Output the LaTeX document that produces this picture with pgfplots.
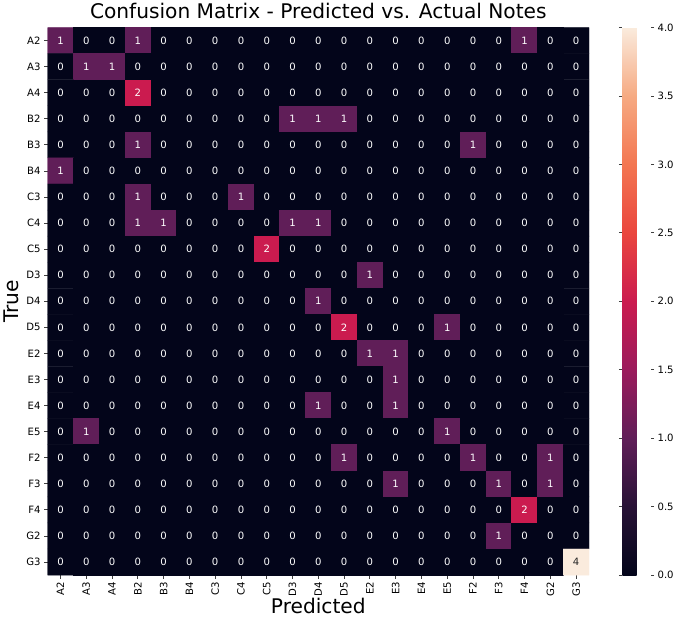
\documentclass[border=0pt]{standalone}
\usepackage{pgfplots}
\usepackage{pgfplotstable}
\pgfplotsset{compat=1.18}
\usepackage{fontspec}
\setmainfont{DejaVu Sans}
% confusion matrix: x = Predicted index, y = True index (A2..G3), c = count
\pgfplotstableread{
x y c
0 0 1
1 0 0
2 0 0
3 0 1
4 0 0
5 0 0
6 0 0
7 0 0
8 0 0
9 0 0
10 0 0
11 0 0
12 0 0
13 0 0
14 0 0
15 0 0
16 0 0
17 0 0
18 0 1
19 0 0
20 0 0
0 1 0
1 1 1
2 1 1
3 1 0
4 1 0
5 1 0
6 1 0
7 1 0
8 1 0
9 1 0
10 1 0
11 1 0
12 1 0
13 1 0
14 1 0
15 1 0
16 1 0
17 1 0
18 1 0
19 1 0
20 1 0
0 2 0
1 2 0
2 2 0
3 2 2
4 2 0
5 2 0
6 2 0
7 2 0
8 2 0
9 2 0
10 2 0
11 2 0
12 2 0
13 2 0
14 2 0
15 2 0
16 2 0
17 2 0
18 2 0
19 2 0
20 2 0
0 3 0
1 3 0
2 3 0
3 3 0
4 3 0
5 3 0
6 3 0
7 3 0
8 3 0
9 3 1
10 3 1
11 3 1
12 3 0
13 3 0
14 3 0
15 3 0
16 3 0
17 3 0
18 3 0
19 3 0
20 3 0
0 4 0
1 4 0
2 4 0
3 4 1
4 4 0
5 4 0
6 4 0
7 4 0
8 4 0
9 4 0
10 4 0
11 4 0
12 4 0
13 4 0
14 4 0
15 4 0
16 4 1
17 4 0
18 4 0
19 4 0
20 4 0
0 5 1
1 5 0
2 5 0
3 5 0
4 5 0
5 5 0
6 5 0
7 5 0
8 5 0
9 5 0
10 5 0
11 5 0
12 5 0
13 5 0
14 5 0
15 5 0
16 5 0
17 5 0
18 5 0
19 5 0
20 5 0
0 6 0
1 6 0
2 6 0
3 6 1
4 6 0
5 6 0
6 6 0
7 6 1
8 6 0
9 6 0
10 6 0
11 6 0
12 6 0
13 6 0
14 6 0
15 6 0
16 6 0
17 6 0
18 6 0
19 6 0
20 6 0
0 7 0
1 7 0
2 7 0
3 7 1
4 7 1
5 7 0
6 7 0
7 7 0
8 7 0
9 7 1
10 7 1
11 7 0
12 7 0
13 7 0
14 7 0
15 7 0
16 7 0
17 7 0
18 7 0
19 7 0
20 7 0
0 8 0
1 8 0
2 8 0
3 8 0
4 8 0
5 8 0
6 8 0
7 8 0
8 8 2
9 8 0
10 8 0
11 8 0
12 8 0
13 8 0
14 8 0
15 8 0
16 8 0
17 8 0
18 8 0
19 8 0
20 8 0
0 9 0
1 9 0
2 9 0
3 9 0
4 9 0
5 9 0
6 9 0
7 9 0
8 9 0
9 9 0
10 9 0
11 9 0
12 9 1
13 9 0
14 9 0
15 9 0
16 9 0
17 9 0
18 9 0
19 9 0
20 9 0
0 10 0
1 10 0
2 10 0
3 10 0
4 10 0
5 10 0
6 10 0
7 10 0
8 10 0
9 10 0
10 10 1
11 10 0
12 10 0
13 10 0
14 10 0
15 10 0
16 10 0
17 10 0
18 10 0
19 10 0
20 10 0
0 11 0
1 11 0
2 11 0
3 11 0
4 11 0
5 11 0
6 11 0
7 11 0
8 11 0
9 11 0
10 11 0
11 11 2
12 11 0
13 11 0
14 11 0
15 11 1
16 11 0
17 11 0
18 11 0
19 11 0
20 11 0
0 12 0
1 12 0
2 12 0
3 12 0
4 12 0
5 12 0
6 12 0
7 12 0
8 12 0
9 12 0
10 12 0
11 12 0
12 12 1
13 12 1
14 12 0
15 12 0
16 12 0
17 12 0
18 12 0
19 12 0
20 12 0
0 13 0
1 13 0
2 13 0
3 13 0
4 13 0
5 13 0
6 13 0
7 13 0
8 13 0
9 13 0
10 13 0
11 13 0
12 13 0
13 13 1
14 13 0
15 13 0
16 13 0
17 13 0
18 13 0
19 13 0
20 13 0
0 14 0
1 14 0
2 14 0
3 14 0
4 14 0
5 14 0
6 14 0
7 14 0
8 14 0
9 14 0
10 14 1
11 14 0
12 14 0
13 14 1
14 14 0
15 14 0
16 14 0
17 14 0
18 14 0
19 14 0
20 14 0
0 15 0
1 15 1
2 15 0
3 15 0
4 15 0
5 15 0
6 15 0
7 15 0
8 15 0
9 15 0
10 15 0
11 15 0
12 15 0
13 15 0
14 15 0
15 15 1
16 15 0
17 15 0
18 15 0
19 15 0
20 15 0
0 16 0
1 16 0
2 16 0
3 16 0
4 16 0
5 16 0
6 16 0
7 16 0
8 16 0
9 16 0
10 16 0
11 16 1
12 16 0
13 16 0
14 16 0
15 16 0
16 16 1
17 16 0
18 16 0
19 16 1
20 16 0
0 17 0
1 17 0
2 17 0
3 17 0
4 17 0
5 17 0
6 17 0
7 17 0
8 17 0
9 17 0
10 17 0
11 17 0
12 17 0
13 17 1
14 17 0
15 17 0
16 17 0
17 17 1
18 17 0
19 17 1
20 17 0
0 18 0
1 18 0
2 18 0
3 18 0
4 18 0
5 18 0
6 18 0
7 18 0
8 18 0
9 18 0
10 18 0
11 18 0
12 18 0
13 18 0
14 18 0
15 18 0
16 18 0
17 18 0
18 18 2
19 18 0
20 18 0
0 19 0
1 19 0
2 19 0
3 19 0
4 19 0
5 19 0
6 19 0
7 19 0
8 19 0
9 19 0
10 19 0
11 19 0
12 19 0
13 19 0
14 19 0
15 19 0
16 19 0
17 19 1
18 19 0
19 19 0
20 19 0
0 20 0
1 20 0
2 20 0
3 20 0
4 20 0
5 20 0
6 20 0
7 20 0
8 20 0
9 20 0
10 20 0
11 20 0
12 20 0
13 20 0
14 20 0
15 20 0
16 20 0
17 20 0
18 20 0
19 20 0
20 20 4
}\cmdata
\definecolor{numdark}{RGB}{38,38,38}
\begin{document}
\begin{tikzpicture}
\begin{axis}[
  scale only axis,
  width=537pt, height=543pt,
  xmin=-0.5, xmax=20.5, ymin=-0.5, ymax=20.5,
  y dir=reverse,
  axis line style={draw=none},
  /pgf/number format/assume math mode=true,
  xtick={0,...,20}, ytick={0,...,20},
  xticklabels={A2,A3,A4,B2,B3,B4,C3,C4,C5,D3,D4,D5,E2,E3,E4,E5,F2,F3,F4,G2,G3},
  yticklabels={A2,A3,A4,B2,B3,B4,C3,C4,C5,D3,D4,D5,E2,E3,E4,E5,F2,F3,F4,G2,G3},
  tick pos=left,
  tick align=outside,
  major tick length=3.5pt,
  tick style={black!75, line width=0.8pt},
  x tick label style={rotate=90, anchor=east, font=\fontsize{10}{12}\selectfont},
  y tick label style={font=\fontsize{10}{12}\selectfont},
  title={Confusion Matrix - Predicted vs. Actual Notes},
  title style={font=\fontsize{20}{24}\selectfont, yshift=-1pt},
  xlabel={Predicted},
  ylabel={True},
  label style={font=\fontsize{20}{24}\selectfont},
  xlabel style={yshift=5pt},
  ylabel style={yshift=1pt},
  colormap={rocket}{rgb255=(3,5,26) rgb255=(40,18,54) rgb255=(96,30,88) rgb255=(155,27,92) rgb255=(203,27,79) rgb255=(234,70,62) rgb255=(243,118,81) rgb255=(246,170,130) rgb255=(250,235,221)},
  point meta min=0, point meta max=4,
  colorbar,
  colorbar shift/.style={xshift=33pt},
  colorbar style={
    width=28pt,
    axis line style={draw=none},
    ytick={0,0.5,...,4},
    yticklabel style={font=\fontsize{10}{12}\selectfont, /pgf/number format/.cd, fixed, fixed zerofill, precision=1, assume math mode=true},
    tick align=outside,
    major tick length=3.5pt,
    tick style={black!75, line width=0.8pt},
  },
  nodes near coords align=center,
]
\addplot[matrix plot*, mesh/cols=21, point meta=explicit]
  table[x=x, y=y, meta=c]{\cmdata};
\addplot[only marks, mark=none, point meta=explicit,
  nodes near coords={\pgfmathprintnumber[assume math mode=true]{\pgfplotspointmeta}},
  every node near coord/.append style={text=white, font=\fontsize{10}{12}\selectfont, anchor=center},
  restrict expr to domain={\thisrow{c}}{0:3.5}]
  table[x=x, y=y, meta=c]{\cmdata};
\addplot[only marks, mark=none, point meta=explicit,
  nodes near coords={\pgfmathprintnumber[assume math mode=true]{\pgfplotspointmeta}},
  every node near coord/.append style={text=numdark, font=\fontsize{10}{12}\selectfont, anchor=center},
  restrict expr to domain={\thisrow{c}}{3.5:5}]
  table[x=x, y=y, meta=c]{\cmdata};
\end{axis}
\end{tikzpicture}
\end{document}
